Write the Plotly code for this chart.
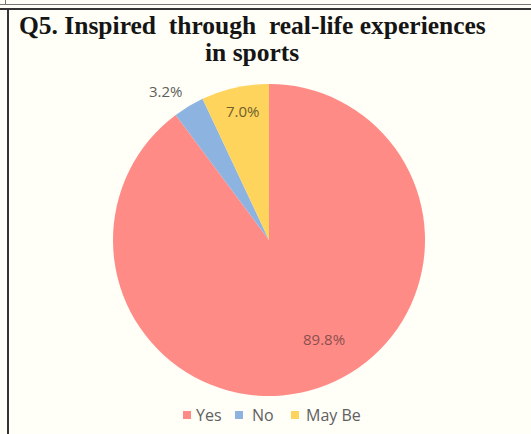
import plotly.graph_objects as go

# Survey answers for question 5
labels = ["Yes", "No", "May Be"]
shares = [89.8, 3.2, 7.0]
colors = ["#FF8B86", "#8DB3E0", "#FFD45C"]

W, H = 531, 434
cx, cy, r = 269, 240, 156

fig = go.Figure(
    go.Pie(
        labels=labels,
        values=shares,
        sort=False,
        direction="clockwise",
        rotation=0,
        marker=dict(colors=colors, line=dict(width=0)),
        textinfo="none",
        hoverinfo="label+percent",
        showlegend=False,
        domain=dict(
            x=[(cx - r) / W, (cx + r) / W],
            y=[(H - cy - r) / H, (H - cy + r) / H],
        ),
    )
)


def px(x):
    return x / W


def py(y):
    return 1 - y / H


# value labels, text built from the data
label_pos = [(324, 339, "#8a504d"), (166, 91, "#5e5e5e"), (243, 111, "#6e5f2c")]
for v, (x, y, c) in zip(shares, label_pos):
    fig.add_annotation(
        x=px(x), y=py(y), xref="paper", yref="paper",
        xanchor="center", yanchor="middle",
        text=f"{v:.1f}%", showarrow=False,
        font=dict(family="Open Sans", size=15, color=c),
    )

# title, two centred lines
title_lines = ["Q5. Inspired  through  real-life experiences", "in sports"]
for line, yc in zip(title_lines, [26, 53]):
    fig.add_annotation(
        x=px(252), y=py(yc), xref="paper", yref="paper",
        xanchor="center", yanchor="middle",
        text=f"<b>{line}</b>", showarrow=False,
        font=dict(family="Liberation Serif", size=25.5, color="#151515"),
    )

# legend row: square swatch followed by its label
swatch_x = [183, 235, 291]
text_x = [194, 250, 304]
for name, col, sx, tx in zip(labels, colors, swatch_x, text_x):
    fig.add_shape(
        type="rect", xref="paper", yref="paper",
        x0=px(sx), x1=px(sx + 8), y0=py(419), y1=py(411),
        fillcolor=col, line=dict(width=0),
    )
    fig.add_annotation(
        x=px(tx), y=py(415), xref="paper", yref="paper",
        xanchor="left", yanchor="middle",
        text=name, showarrow=False,
        font=dict(family="Open Sans", size=16, color="#606060"),
    )

# frame lines around the panel
frame = [
    dict(x0=0, x1=W, y0=4.5, y1=4.5, w=1, c="#777777"),
    dict(x0=0, x1=W, y0=9, y1=9, w=2, c="#333333"),
    dict(x0=5.5, x1=5.5, y0=0, y1=4.5, w=1, c="#777777"),
    dict(x0=8, x1=8, y0=9, y1=H, w=2, c="#333333"),
]
for f in frame:
    fig.add_shape(
        type="line", xref="paper", yref="paper",
        x0=px(f["x0"]), x1=px(f["x1"]), y0=py(f["y0"]), y1=py(f["y1"]),
        line=dict(color=f["c"], width=f["w"]),
    )

fig.update_layout(
    width=W, height=H,
    margin=dict(l=0, r=0, t=0, b=0),
    paper_bgcolor="#fffef7",
    plot_bgcolor="#fffef7",
    showlegend=False,
)

fig.write_html("out.html")
